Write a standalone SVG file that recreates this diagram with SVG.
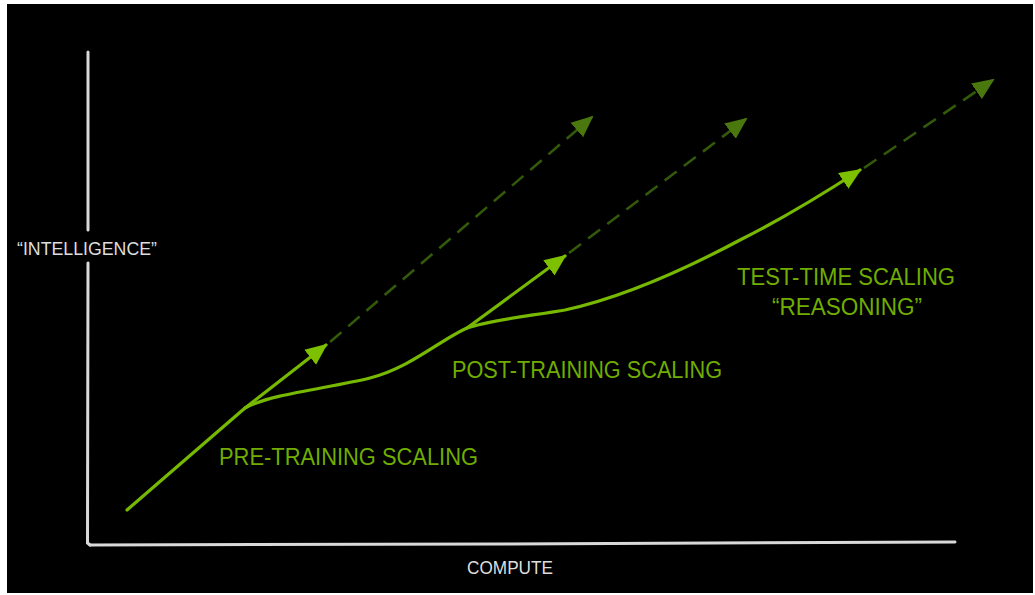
<svg xmlns="http://www.w3.org/2000/svg" width="1035" height="595" viewBox="0 0 1035 595">
  <style>
    .axis { fill: none; stroke: #d9d9d9; stroke-width: 3; stroke-linecap: round; }
    .axislbl { fill: #dedede; font-family: "Liberation Sans", Arial, sans-serif; }
    .solid { fill: none; stroke: #76b900; stroke-width: 3.2; stroke-linecap: round; stroke-linejoin: round; }
    .dash { fill: none; stroke: #33590a; stroke-width: 2.6; stroke-dasharray: 15 9; }
    .lbl { fill: #70ad00; font-family: "Liberation Sans", Arial, sans-serif; font-size: 23px; }
  </style>
  <defs>
    <marker id="ah" viewBox="0 0 22 20" refX="20" refY="10" markerWidth="22" markerHeight="20" markerUnits="userSpaceOnUse" orient="auto">
      <path d="M0,0.5 L22,10 L0,19.5 z" fill="#7cc000"/>
    </marker>
    <marker id="ahd" viewBox="0 0 22 20" refX="20" refY="10" markerWidth="22" markerHeight="20" markerUnits="userSpaceOnUse" orient="auto">
      <path d="M0,0.5 L22,10 L0,19.5 z" fill="#4a780f"/>
    </marker>
  </defs>
  <rect x="0" y="0" width="1035" height="595" fill="#ffffff"/>
  <rect x="7" y="4" width="1026" height="589" fill="#000000"/>

  <g id="axes">
    <path class="axis" d="M88,52 L88,230"/>
    <path class="axis" d="M88,263 L87.5,543 L90,545"/>
    <path class="axis" d="M90,545 L500,544 L955,542"/>
    <text class="axislbl" x="17" y="255" font-size="19" textLength="140" lengthAdjust="spacingAndGlyphs">“INTELLIGENCE”</text>
    <text class="axislbl" x="467" y="574" font-size="18" textLength="86" lengthAdjust="spacingAndGlyphs">COMPUTE</text>
  </g>

  <g id="connectors">
    <path class="dash" d="M330,342 L592,117" marker-end="url(#ahd)"/>
    <path class="dash" d="M569,253 L746,119" marker-end="url(#ahd)"/>
    <path class="dash" d="M864,168 L993,80" marker-end="url(#ahd)"/>
    <path class="solid" d="M127,510 L245,408 L326,345" marker-end="url(#ah)"/>
    <path class="solid" d="M245,408 C270,394 330,388 370,378 C410,368 440,340 467,328 L565,256" marker-end="url(#ah)"/>
    <path class="solid" d="M467,328 C490,320 530,316 565,310 C620,298 680,272 740,240 C780,220 820,196 860,170" marker-end="url(#ah)"/>
  </g>

  <g id="pre-training">
    <text class="lbl" x="219" y="465" textLength="259" lengthAdjust="spacingAndGlyphs">PRE-TRAINING SCALING</text>
  </g>
  <g id="post-training">
    <text class="lbl" x="452" y="378" textLength="270" lengthAdjust="spacingAndGlyphs">POST-TRAINING SCALING</text>
  </g>
  <g id="test-time">
    <text class="lbl" x="737" y="285" textLength="218" lengthAdjust="spacingAndGlyphs">TEST-TIME SCALING</text>
    <text class="lbl" x="772" y="315" textLength="150" lengthAdjust="spacingAndGlyphs">“REASONING”</text>
  </g>
</svg>
